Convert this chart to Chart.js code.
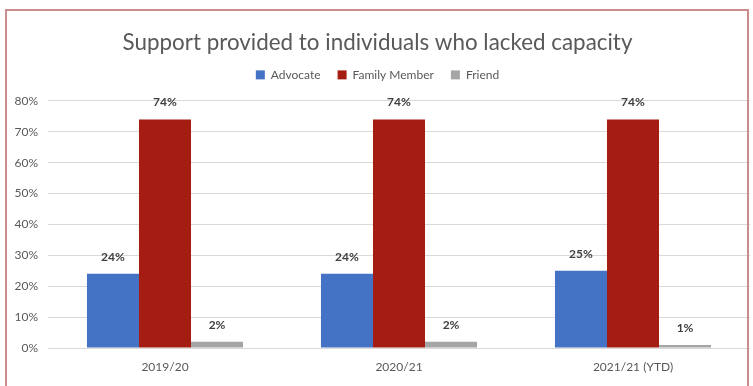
<!DOCTYPE html>
<html>
<head>
<meta charset="utf-8">
<script src="https://cdn.jsdelivr.net/npm/chart.js@4"></script>
<style>
  html, body { margin: 0; padding: 0; background: #ffffff; overflow: hidden; }
  #wrap { position: relative; width: 753px; height: 386px; }
  #frame { position: absolute; left: 5px; top: 9px; width: 744px; height: 400px;
           border: 2px solid #c98e8c; pointer-events: none; box-sizing: border-box; }
  canvas { position: absolute; left: 0; top: 0; }
</style>
</head>
<body>
<div id="wrap">
  <canvas id="c" width="753" height="386"></canvas>
  <div id="frame"></div>
</div>
<script>
const categories = ["2019/20", "2020/21", "2021/21 (YTD)"];
const advocate = [24, 24, 25];
const familyMember = [74, 74, 74];
const friend = [2, 2, 1];
const seriesNames = ["Advocate", "Family Member", "Friend"];
const yTicks = [0, 10, 20, 30, 40, 50, 60, 70, 80];

const FONT = "Lato, 'Open Sans', sans-serif";

const valueLabels = {
  id: 'valueLabels',
  afterDatasetsDraw(chart) {
    const ctx = chart.ctx;
    ctx.save();
    ctx.font = "bold 12px " + FONT;
    ctx.fillStyle = "#404040";
    ctx.textAlign = "center";
    ctx.textBaseline = "middle";
    chart.data.datasets.forEach((ds, i) => {
      const meta = chart.getDatasetMeta(i);
      meta.data.forEach((bar, j) => {
        ctx.fillText(ds.data[j] + "%", bar.x, bar.y - 17);
      });
    });
    ctx.restore();
  }
};

// extra space below the legend row
const legendGap = {
  id: 'legendGap',
  beforeLayout(chart) {
    const lg = chart.legend;
    if (lg && !lg._gapPatched) {
      const orig = lg.fit.bind(lg);
      lg.fit = function () { orig(); this.height += 10; };
      lg._gapPatched = true;
    }
  }
};

new Chart(document.getElementById('c'), {
  type: 'bar',
  data: {
    labels: categories,
    datasets: [
      { label: seriesNames[0], data: advocate, backgroundColor: "#4472c4" },
      { label: seriesNames[1], data: familyMember, backgroundColor: "#a51c12" },
      { label: seriesNames[2], data: friend, backgroundColor: "#a5a5a5" }
    ]
  },
  options: {
    responsive: false,
    animation: false,
    devicePixelRatio: 1,
    layout: { padding: { left: 5, right: 3, top: 29, bottom: 0 } },
    datasets: { bar: { barPercentage: 1.0, categoryPercentage: 0.667 } },
    plugins: {
      tooltip: { enabled: false },
      title: {
        display: true,
        text: "Support provided to individuals who lacked capacity",
        color: "#595959",
        font: { family: FONT, size: 22.4, weight: 'normal' },
        padding: { top: 0, bottom: -4 }
      },
      legend: {
        display: true,
        position: 'top',
        labels: {
          color: "#595959",
          font: { family: FONT, size: 12 },
          boxWidth: 9,
          boxHeight: 9,
          padding: 17
        }
      }
    },
    scales: {
      x: {
        grid: { display: false, drawTicks: false },
        border: { display: false },
        ticks: { color: "#595959", font: { family: FONT, size: 12 }, padding: 12 },
        afterFit(scale) { scale.height = 38; }
      },
      y: {
        min: 0,
        max: 80,
        afterBuildTicks(scale) { scale.ticks = yTicks.map(v => ({ value: v })); },
        grid: { color: "#d9d9d9", lineWidth: 1, drawTicks: false },
        border: { display: false },
        ticks: {
          color: "#595959",
          font: { family: FONT, size: 12 },
          padding: 10,
          callback: (v) => v + "%"
        },
        afterFit(scale) { scale.width = 43; }
      }
    }
  },
  plugins: [valueLabels, legendGap]
});
</script>
</body>
</html>
